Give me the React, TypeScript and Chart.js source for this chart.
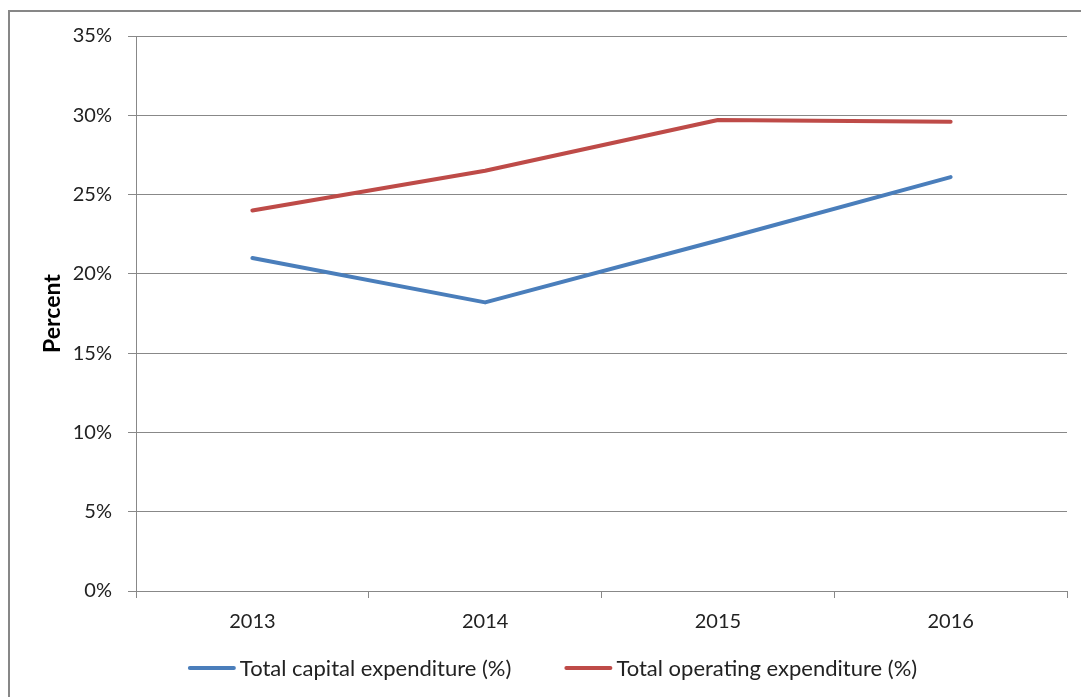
import { useEffect, useRef } from "react";
import { Chart, registerables } from "chart.js";

Chart.register(...registerables);

// Expenditure shares by year (percent)
const years = ["2013", "2014", "2015", "2016"];
const capitalExpenditure = [21.0, 18.2, 22.1, 26.1];
const operatingExpenditure = [24.0, 26.5, 29.7, 29.6];
const seriesLabels = ["Total capital expenditure (%)", "Total operating expenditure (%)"];
const seriesColors = ["#4A7EBB", "#BE4B48"];
const yAxisTitle = "Percent";
const yMin = 0;
const yMax = 35;
const yStep = 5;

const FONT = "Lato, 'Open Sans', sans-serif";
const GRID = "#888888";
const TEXT = "#222222";

// Bottom legend: short line swatch, label right after it, wide gap between entries
const lineLegend = {
  id: "lineLegend",
  afterDraw(chart: any) {
    const ctx: CanvasRenderingContext2D = chart.ctx;
    const swatch = 48;
    const textGap = 4;
    const itemGap = 53;
    ctx.save();
    ctx.font = `22px ${FONT}`;
    const items = chart.data.datasets.map((ds: any) => ({
      label: ds.label as string,
      color: ds.borderColor as string,
      width: swatch + textGap + ctx.measureText(ds.label).width,
    }));
    const total =
      items.reduce((s: number, it: any) => s + it.width, 0) + itemGap * (items.length - 1);
    let x = chart.width / 2 + 7 - total / 2;
    const y = chart.height - 29;
    ctx.textBaseline = "middle";
    ctx.textAlign = "left";
    for (const it of items) {
      ctx.strokeStyle = it.color;
      ctx.lineWidth = 4;
      ctx.lineCap = "round";
      ctx.beginPath();
      ctx.moveTo(x + 2, y);
      ctx.lineTo(x + swatch - 2, y);
      ctx.stroke();
      ctx.fillStyle = TEXT;
      ctx.fillText(it.label, x + swatch + textGap, y + 1);
      x += it.width + itemGap;
    }
    ctx.restore();
  },
};

export default function App() {
  const canvasRef = useRef<HTMLCanvasElement | null>(null);

  useEffect(() => {
    if (!canvasRef.current) return;
    const chart = new Chart(canvasRef.current, {
      type: "line",
      data: {
        labels: years,
        datasets: [
          {
            label: seriesLabels[0],
            data: capitalExpenditure,
            borderColor: seriesColors[0],
            backgroundColor: seriesColors[0],
            borderWidth: 4,
            pointRadius: 0,
            tension: 0,
            borderCapStyle: "round",
            borderJoinStyle: "round",
          },
          {
            label: seriesLabels[1],
            data: operatingExpenditure,
            borderColor: seriesColors[1],
            backgroundColor: seriesColors[1],
            borderWidth: 4,
            pointRadius: 0,
            tension: 0,
            borderCapStyle: "round",
            borderJoinStyle: "round",
          },
        ],
      },
      options: {
        animation: false,
        responsive: true,
        maintainAspectRatio: false,
        layout: { padding: { top: 0, right: 14, left: 0, bottom: 51 } },
        plugins: {
          tooltip: { enabled: false },
          legend: { display: false },
        },
        scales: {
          x: {
            offset: true,
            grid: {
              offset: true,
              drawOnChartArea: false,
              drawTicks: true,
              tickLength: 7,
              color: GRID,
            },
            border: { color: GRID, width: 1 },
            ticks: {
              color: TEXT,
              padding: 12,
              font: { family: FONT, size: 20 },
            },
          },
          y: {
            min: yMin,
            max: yMax,
            afterFit: (scale: any) => {
              scale.width = 126;
              scale.paddingTop = Math.max(0, scale.paddingTop - 4);
            },
            grid: { color: GRID, tickLength: 8, lineWidth: 1 },
            border: { color: GRID, width: 1 },
            ticks: {
              stepSize: yStep,
              color: TEXT,
              padding: 16,
              font: { family: FONT, size: 20 },
              callback: (v) => `${v}%`,
            },
            title: {
              display: true,
              text: yAxisTitle,
              color: "#000000",
              font: { family: FONT, size: 23, weight: "bold" },
              padding: { top: 29, bottom: 6 },
            },
          },
        },
      },
      plugins: [lineLegend],
    });
    return () => chart.destroy();
  }, []);

  return (
    <div
      style={{
        position: "fixed",
        left: 8,
        top: 10,
        right: 0,
        bottom: 0,
        borderTop: "2px solid #878787",
        borderLeft: "2px solid #878787",
        background: "#ffffff",
      }}
    >
      <div style={{ position: "relative", width: "100%", height: "100%" }}>
        <canvas ref={canvasRef} />
      </div>
    </div>
  );
}
